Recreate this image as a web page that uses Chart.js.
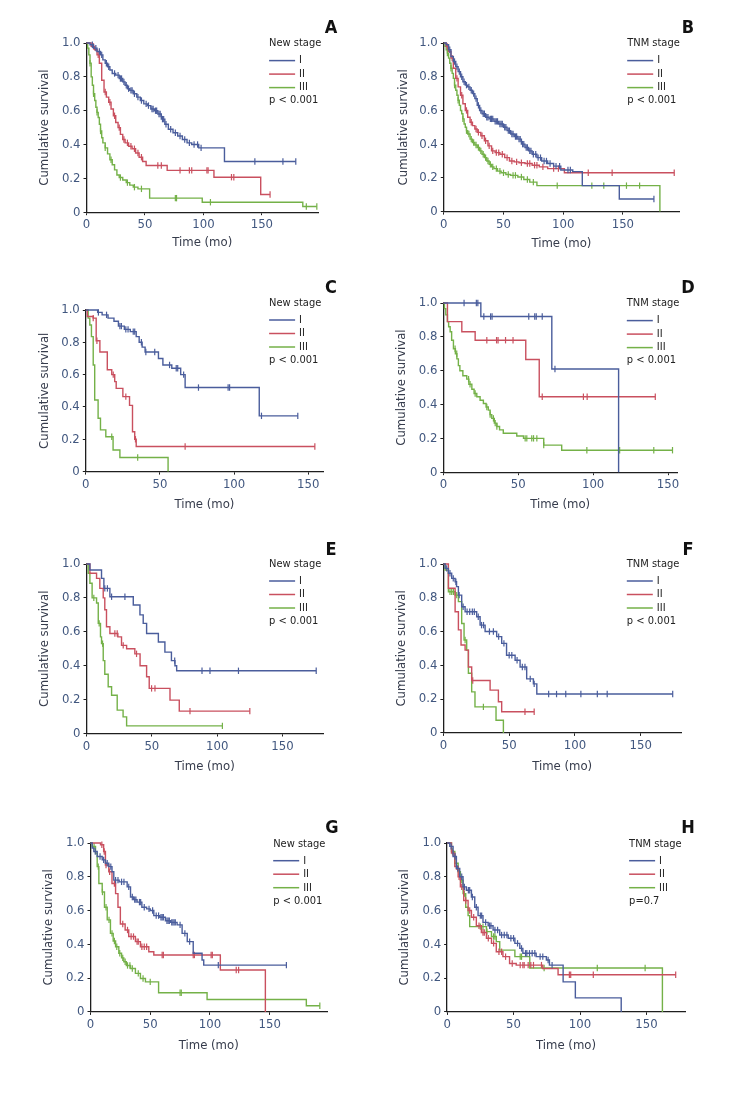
<!DOCTYPE html>
<html>
<head>
<meta charset="utf-8">
<script src="https://cdn.jsdelivr.net/npm/chart.js@4/dist/chart.umd.min.js"></script>
<style>
body { margin: 0; background: #fff; width: 731px; height: 1105px; position: relative; overflow: hidden; }
canvas { position: absolute; }
.tag { position: absolute; font: bold 18px "Liberation Sans Narrow", "DejaVu Sans Condensed", sans-serif; color: #111; transform: translate(-50%, -50%); }
</style>
</head>
<body>
<script>
// ---------- tick labels ----------
const timeTicks = [0, 50, 100, 150];
const survTicks = [0, 0.2, 0.4, 0.6, 0.8, 1.0];
const stageLabels = ['I', 'II', 'III'];

// ---------- A: new stage ----------
const aI_t = [3, 6, 9, 12, 14, 16, 18, 20, 22, 25, 28, 31, 33, 35, 37, 40, 43, 46, 49, 52, 55, 58, 61, 64, 67, 70, 74, 78, 82, 86, 90, 96, 118];
const aI_s = [0.99, 0.97, 0.95, 0.93, 0.90, 0.88, 0.86, 0.84, 0.82, 0.81, 0.79, 0.77, 0.75, 0.73, 0.72, 0.70, 0.68, 0.66, 0.64, 0.63, 0.61, 0.60, 0.58, 0.55, 0.52, 0.49, 0.47, 0.45, 0.43, 0.41, 0.40, 0.38, 0.30];
const aI_c = [5, 8, 11, 13, 17, 19, 24, 27, 29, 30, 32, 34, 36, 38, 39, 41, 44, 47, 51, 53, 56, 57, 59, 60, 62, 63, 65, 66, 68, 72, 76, 80, 84, 88, 92, 95, 98, 144, 168, 179];
const aII_t = [4, 7, 9, 11, 13, 15, 17, 19, 21, 23, 25, 27, 29, 31, 33, 36, 39, 42, 45, 48, 51, 69, 109, 149];
const aII_s = [0.98, 0.96, 0.93, 0.88, 0.78, 0.71, 0.68, 0.65, 0.61, 0.57, 0.53, 0.50, 0.46, 0.43, 0.41, 0.39, 0.375, 0.35, 0.325, 0.30, 0.276, 0.247, 0.207, 0.105];
const aII_c = [6, 10, 16, 20, 24, 28, 32, 35, 38, 41, 44, 47, 61, 64, 80, 88, 90, 103, 104, 124, 126, 157];
const aIII_t = [1, 2, 3, 4, 5, 6, 7, 8, 9, 10, 11, 12, 13, 14, 16, 18, 20, 22, 24, 26, 28, 31, 34, 37, 40, 44, 54, 99, 185];
const aIII_s = [0.97, 0.93, 0.88, 0.80, 0.75, 0.70, 0.66, 0.62, 0.59, 0.56, 0.52, 0.48, 0.44, 0.41, 0.38, 0.345, 0.31, 0.28, 0.25, 0.22, 0.205, 0.19, 0.175, 0.16, 0.148, 0.138, 0.083, 0.059, 0.034];
const aIII_c = [3, 6, 9, 12, 16, 21, 29, 35, 41, 47, 76, 77, 106, 188, 197];

// ---------- B: TNM stage ----------
const bI_t = [2, 4, 6, 8, 10, 12, 14, 16, 18, 20, 22, 24, 26, 28, 30, 32, 35, 38, 42, 46, 50, 53, 56, 59, 62, 65, 68, 71, 74, 78, 82, 87, 92, 98, 108, 116, 147];
const bI_s = [0.99, 0.96, 0.92, 0.89, 0.86, 0.83, 0.80, 0.77, 0.75, 0.74, 0.72, 0.70, 0.67, 0.63, 0.60, 0.58, 0.56, 0.55, 0.535, 0.52, 0.50, 0.48, 0.46, 0.445, 0.43, 0.40, 0.38, 0.36, 0.34, 0.32, 0.30, 0.285, 0.27, 0.247, 0.237, 0.154, 0.075];
const bI_c = [5, 9, 11, 13, 15, 17, 19, 21, 23, 25, 27, 29, 31, 33, 34, 36, 37, 39, 40, 41, 43, 44, 45, 47, 48, 49, 51, 52, 54, 55, 57, 58, 60, 61, 63, 64, 66, 67, 69, 70, 72, 73, 75, 77, 79, 81, 84, 86, 89, 94, 97, 104, 106, 176];
const bII_t = [2, 4, 6, 8, 10, 12, 14, 16, 18, 20, 22, 24, 26, 28, 31, 34, 37, 40, 43, 47, 51, 55, 59, 63, 68, 74, 80, 87, 101];
const bII_s = [0.98, 0.95, 0.91, 0.85, 0.79, 0.74, 0.69, 0.64, 0.60, 0.56, 0.53, 0.51, 0.49, 0.47, 0.45, 0.42, 0.39, 0.36, 0.35, 0.34, 0.32, 0.30, 0.295, 0.29, 0.285, 0.275, 0.265, 0.255, 0.23];
const bII_c = [3, 7, 11, 15, 19, 23, 27, 29, 32, 35, 38, 41, 44, 46, 49, 53, 57, 61, 65, 70, 72, 76, 78, 83, 92, 96, 121, 141, 193];
const bIII_t = [1, 2, 3, 4, 5, 6, 7, 8, 9, 10, 11, 12, 13, 14, 15, 16, 17, 18, 19, 20, 22, 24, 26, 28, 30, 32, 34, 36, 38, 40, 42, 45, 48, 52, 56, 62, 67, 72, 78, 181];
const bIII_s = [0.98, 0.96, 0.94, 0.91, 0.88, 0.85, 0.82, 0.79, 0.75, 0.72, 0.69, 0.66, 0.63, 0.60, 0.58, 0.55, 0.52, 0.50, 0.48, 0.46, 0.43, 0.41, 0.395, 0.38, 0.36, 0.34, 0.32, 0.30, 0.28, 0.265, 0.255, 0.24, 0.23, 0.22, 0.215, 0.205, 0.19, 0.175, 0.154, 0];
const bIII_c = [3, 6, 9, 12, 16, 19, 21, 23, 25, 27, 29, 31, 33, 35, 37, 39, 41, 44, 47, 50, 54, 58, 60, 65, 70, 75, 95, 124, 134, 153, 164];

// ---------- C: new stage ----------
const cI_t = [8, 11, 15, 19, 22, 26, 30, 34, 36, 38, 40, 49, 52, 58, 64, 67, 117];
const cI_s = [0.985, 0.97, 0.95, 0.93, 0.90, 0.88, 0.866, 0.835, 0.80, 0.77, 0.74, 0.70, 0.66, 0.64, 0.60, 0.52, 0.345];
const cI_c = [8.5, 14, 23, 24, 27, 28.5, 32, 33, 37.5, 40.5, 46.5, 56.5, 61, 62, 66, 76, 96, 97, 118.5, 143];
const cII_t = [1, 5, 7, 9.5, 14.5, 17.5, 19.5, 20.5, 25, 29.5, 31.5, 33, 34];
const cII_s = [0.96, 0.95, 0.81, 0.74, 0.63, 0.60, 0.557, 0.515, 0.464, 0.41, 0.247, 0.20, 0.155];
const cII_c = [5, 7.5, 18.5, 27, 33.5, 67, 154.5];
const cIII_t = [1.6, 2.7, 3.8, 5, 6, 8.3, 9.9, 13.5, 18.4, 23, 55.5];
const cIII_s = [0.95, 0.907, 0.835, 0.66, 0.443, 0.33, 0.258, 0.216, 0.134, 0.087, 0];
const cIII_c = [17.5, 35];

// ---------- D: TNM stage ----------
const dI_t = [25, 72.4, 117];
const dI_s = [0.92, 0.61, 0];
const dI_c = [13.8, 22, 23, 27, 31.5, 32.5, 57, 61, 62, 66, 74.5];
const dII_t = [2.7, 12.3, 21.2, 55, 64];
const dII_s = [0.89, 0.83, 0.78, 0.666, 0.446];
const dII_c = [29, 35.5, 36.5, 41.5, 46.5, 66, 93.5, 96, 141.5];
const dIII_t = [0.7, 1.6, 2.7, 3.5, 4.5, 5.5, 6.7, 8, 9, 10, 11, 13, 15.6, 17, 19, 20.5, 22.3, 24.5, 26.7, 28.5, 30, 31.2, 32.3, 34, 35.7, 37.5, 40, 49, 53.5, 67, 79];
const dIII_s = [0.967, 0.93, 0.89, 0.86, 0.83, 0.78, 0.73, 0.70, 0.67, 0.63, 0.60, 0.57, 0.55, 0.52, 0.49, 0.465, 0.446, 0.425, 0.406, 0.385, 0.367, 0.34, 0.318, 0.29, 0.27, 0.25, 0.23, 0.214, 0.20, 0.16, 0.13];
const dIII_c = [7.8, 8.9, 16.8, 17.8, 21.2, 29, 31.2, 33.4, 34.6, 35.7, 54.6, 55.7, 59, 60.2, 62.4, 67, 95.8, 117.7, 140.5, 153];

// ---------- E: new stage ----------
const eI_t = [2.6, 11.5, 13.3, 17.9, 35.8, 40.9, 43.4, 46, 55, 60, 65, 67.7, 69];
const eI_s = [0.965, 0.915, 0.856, 0.807, 0.758, 0.70, 0.65, 0.59, 0.54, 0.48, 0.43, 0.40, 0.37];
const eI_c = [14, 16, 19.2, 29.4, 67.5, 88.4, 94.5, 116.3, 175.8];
const eII_t = [2.6, 7.7, 10.2, 12.8, 14, 15.3, 17.9, 24, 26.8, 30.7, 37, 41, 46, 48, 63.9, 71];
const eII_s = [0.945, 0.915, 0.856, 0.80, 0.73, 0.63, 0.59, 0.57, 0.52, 0.50, 0.47, 0.40, 0.335, 0.266, 0.197, 0.132];
const eII_c = [21.7, 23.5, 28.1, 38.3, 49.8, 52.4, 79.2, 125];
const eIII_t = [1.3, 2.6, 4.3, 7.7, 9, 10.7, 11.5, 12.8, 14, 16.6, 19.2, 23.5, 28, 30.7];
const eIII_s = [0.945, 0.886, 0.80, 0.77, 0.65, 0.57, 0.53, 0.43, 0.35, 0.276, 0.226, 0.138, 0.098, 0.045];
const eIII_c = [5.6, 9.7, 12.3, 104];

// ---------- F: TNM stage ----------
const fI_t = [1.3, 3.8, 6.3, 8.9, 10, 11.4, 13.9, 16.5, 25.3, 27.9, 31.7, 40.5, 44.3, 48, 54.5, 58.3, 63.3, 68.4, 71];
const fI_s = [0.974, 0.945, 0.915, 0.895, 0.866, 0.816, 0.747, 0.717, 0.688, 0.638, 0.60, 0.57, 0.53, 0.46, 0.43, 0.39, 0.32, 0.29, 0.23];
const fI_c = [2.5, 5, 7.5, 9.5, 12, 15, 18, 20, 22, 23.5, 26.5, 29, 30.5, 35, 38, 42, 46, 50, 52, 56, 60, 62, 66, 69, 80, 86, 93, 104.5, 117, 124.5, 174.3];
const fII_t = [3.8, 8.9, 11.4, 13.4, 16.5, 19, 21.5, 35.5, 41.8, 44.3];
const fII_s = [0.856, 0.717, 0.61, 0.52, 0.49, 0.39, 0.31, 0.253, 0.184, 0.125];
const fII_c = [22.3, 62, 69];
const fIII_t = [1.3, 3.8, 8.9, 11.4, 13.9, 15.7, 17.7, 19, 21.5, 24, 40, 45.6];
const fIII_s = [0.964, 0.836, 0.816, 0.777, 0.648, 0.55, 0.49, 0.353, 0.243, 0.154, 0.075, 0];
const fIII_c = [5, 6.3, 7.6, 10.1, 16.5, 30.4];

// ---------- G: new stage ----------
const gI_t = [1.4, 2.8, 5.6, 9.8, 12.5, 15.3, 18, 19.5, 24, 30.7, 33.5, 36, 39, 43, 47, 50, 53, 58, 62.7, 67, 72.5, 76.7, 81, 86, 93.4, 94.8];
const gI_s = [0.97, 0.95, 0.92, 0.90, 0.88, 0.86, 0.83, 0.78, 0.77, 0.74, 0.68, 0.665, 0.65, 0.62, 0.61, 0.60, 0.57, 0.56, 0.54, 0.53, 0.515, 0.465, 0.416, 0.347, 0.307, 0.277];
const gI_c = [4, 8, 11, 14, 17, 21, 23, 26, 28, 32, 35, 37, 38, 41, 42, 45, 49, 52, 55, 57, 59, 60, 61, 64, 65, 66, 68, 69, 70, 71, 75, 79, 83, 107, 164];
const gII_t = [8.4, 11, 12.5, 15.3, 18, 21, 23, 25, 29, 32, 37.6, 41.8, 48.8, 53, 108.7, 146.4];
const gII_s = [0.99, 0.95, 0.87, 0.83, 0.76, 0.70, 0.62, 0.52, 0.485, 0.446, 0.416, 0.386, 0.356, 0.337, 0.248, 0];
const gII_c = [9.5, 11.5, 13, 16, 20, 27, 31, 34, 36, 39, 40, 43, 45, 47, 60, 61, 86, 87, 101, 102, 122, 124];
const gIII_t = [1.4, 4.2, 5.6, 7, 9.8, 11.7, 14, 16.7, 19, 21, 23.7, 26, 27.9, 30, 33.5, 37.6, 41.8, 46, 57, 97.6, 180.7];
const gIII_s = [0.98, 0.94, 0.86, 0.76, 0.71, 0.62, 0.545, 0.465, 0.42, 0.386, 0.347, 0.32, 0.297, 0.275, 0.257, 0.228, 0.198, 0.178, 0.113, 0.073, 0.036];
const gIII_c = [3, 6.5, 10, 13, 15.5, 18, 20, 22, 24.5, 27, 29, 31, 33, 35, 40, 44, 50, 75, 76, 192];

// ---------- H: TNM stage ----------
const hI_t = [2, 4.5, 7, 9.5, 12, 14.5, 18.3, 20.8, 23.3, 27, 30.9, 34.6, 39.6, 46, 51, 54.7, 57, 67, 74.7, 77, 87.3, 96.5, 131];
const hI_s = [0.98, 0.92, 0.85, 0.80, 0.74, 0.72, 0.68, 0.62, 0.57, 0.53, 0.51, 0.485, 0.455, 0.436, 0.406, 0.376, 0.347, 0.327, 0.307, 0.277, 0.178, 0.083, 0];
const hI_c = [3, 6, 8, 11, 13, 16, 17, 19, 22, 25, 26, 29, 32, 33, 36, 38, 41, 43, 45, 48, 50, 53, 56, 59, 60, 62, 64, 66, 70, 72, 76, 79];
const hII_t = [3.3, 5.8, 8.3, 10, 12.5, 15.8, 18.3, 22, 25.8, 29.6, 33.4, 37, 42, 47, 52, 72, 83.5];
const hII_s = [0.94, 0.86, 0.80, 0.74, 0.66, 0.60, 0.56, 0.51, 0.47, 0.436, 0.406, 0.356, 0.327, 0.287, 0.277, 0.257, 0.22];
const hII_c = [4.5, 7, 9, 11, 14, 17, 20, 24, 27, 28, 31, 35, 39, 41, 44, 49, 55, 57, 58, 61, 63, 65, 71, 92, 93, 110, 172];
const hIII_t = [3.3, 5.8, 8.3, 10, 12, 14, 15.8, 17, 29.6, 33.4, 37, 39.6, 51, 62.2, 162];
const hIII_s = [0.95, 0.88, 0.83, 0.78, 0.70, 0.62, 0.57, 0.505, 0.475, 0.446, 0.416, 0.366, 0.327, 0.26, 0];
const hIII_c = [4, 7, 9, 11, 13, 25, 27, 30, 35, 36, 55, 56, 73, 113, 149];

const stageColors = ['#4a5d9c', '#c9505f', '#74b148'];
const FONT = '"Liberation Sans Narrow", "DejaVu Sans Condensed", sans-serif';

// layout of each panel on the page (plot box, titles, legend, letter)
const panels = [
  { tag: 'A', L: 86.7, T: 42.7, B: 211.7, ppm: 175 / 150, xmax: 198, yTitleX: 45, xTitleY: 241.7, legX: 269.3, legY: 43.3, legTitle: 'New stage', p: 'p < 0.001', tagX: 331, tagY: 26,
    curves: [[aI_t, aI_s, aI_c], [aII_t, aII_s, aII_c], [aIII_t, aIII_s, aIII_c]] },
  { tag: 'B', L: 443.3, T: 42.7, B: 211.7, ppm: 179 / 150, xmax: 197, yTitleX: 403.3, xTitleY: 243.3, legX: 626.7, legY: 43.3, legTitle: 'TNM stage', p: 'p < 0.001', tagX: 688, tagY: 26,
    curves: [[bI_t, bI_s, bI_c], [bII_t, bII_s, bII_c], [bIII_t, bIII_s, bIII_c]] },
  { tag: 'C', L: 86, T: 310.3, B: 471.7, ppm: 222.3 / 150, xmax: 160, yTitleX: 45, xTitleY: 504.3, legX: 269.3, legY: 303.3, legTitle: 'New stage', p: 'p < 0.001', tagX: 331, tagY: 286,
    curves: [[cI_t, cI_s, cI_c], [cII_t, cII_s, cII_c], [cIII_t, cIII_s, cIII_c]] },
  { tag: 'D', L: 443.3, T: 302.7, B: 472.3, ppm: 224.4 / 150, xmax: 156, yTitleX: 401.7, xTitleY: 504.3, legX: 626.7, legY: 303.3, legTitle: 'TNM stage', p: 'p < 0.001', tagX: 688, tagY: 286,
    curves: [[dI_t, dI_s, dI_c], [dII_t, dII_s, dII_c], [dIII_t, dIII_s, dIII_c]] },
  { tag: 'E', L: 86.7, T: 564, B: 733.3, ppm: 195.6 / 150, xmax: 181, yTitleX: 45, xTitleY: 766, legX: 269.3, legY: 564, legTitle: 'New stage', p: 'p < 0.001', tagX: 331, tagY: 548,
    curves: [[eI_t, eI_s, eI_c], [eII_t, eII_s, eII_c], [eIII_t, eIII_s, eIII_c]] },
  { tag: 'F', L: 443.3, T: 564, B: 732.7, ppm: 197.3 / 150, xmax: 180.6, yTitleX: 401.7, xTitleY: 766, legX: 626.7, legY: 564, legTitle: 'TNM stage', p: 'p < 0.001', tagX: 688, tagY: 548,
    curves: [[fI_t, fI_s, fI_c], [fII_t, fII_s, fII_c], [fIII_t, fIII_s, fIII_c]] },
  { tag: 'G', L: 90, T: 843.3, B: 1011.7, ppm: 179.3 / 150, xmax: 198, yTitleX: 48.3, xTitleY: 1045, legX: 272.7, legY: 844, legTitle: 'New stage', p: 'p < 0.001', tagX: 332, tagY: 826,
    curves: [[gI_t, gI_s, gI_c], [gII_t, gII_s, gII_c], [gIII_t, gIII_s, gIII_c]] },
  { tag: 'H', L: 447.3, T: 843.3, B: 1011.7, ppm: 199.3 / 150, xmax: 179, yTitleX: 405, xTitleY: 1045, legX: 629.3, legY: 844, legTitle: 'TNM stage', p: 'p=0.7', tagX: 688, tagY: 826,
    curves: [[hI_t, hI_s, hI_c], [hII_t, hII_s, hII_c], [hIII_t, hIII_s, hIII_c]] }
];

// Kaplan-Meier step points from drop times and survival values
function stepPoints(t, s, c) {
  const pts = [{ x: 0, y: 1 }];
  t.forEach((x, i) => pts.push({ x: x, y: s[i] }));
  const last = pts[pts.length - 1];
  const end = Math.max(last.x, ...c);
  if (end > last.x && last.y > 0) pts.push({ x: end, y: last.y });
  return pts;
}
function survAt(t, s, x) {
  let v = 1;
  t.forEach((ti, i) => { if (ti <= x) v = s[i]; });
  return v;
}

// draws "New stage / I / II / III / p" box
const kmLegend = {
  id: 'kmLegend',
  afterDraw(chart, args, opts) {
    const ctx = chart.ctx;
    ctx.save();
    ctx.font = '11px ' + FONT;
    ctx.fillStyle = '#222';
    ctx.textBaseline = 'middle';
    ctx.fillText(opts.title, opts.x, opts.y);
    [17, 30.5, 44].forEach((dy, i) => {
      ctx.strokeStyle = stageColors[i];
      ctx.lineWidth = 1.5;
      ctx.beginPath();
      ctx.moveTo(opts.x, opts.y + dy);
      ctx.lineTo(opts.x + 26, opts.y + dy);
      ctx.stroke();
      ctx.fillText(stageLabels[i], opts.x + 30, opts.y + dy);
    });
    ctx.fillText(opts.p, opts.x, opts.y + 57);
    ctx.restore();
  }
};

const TITLE_HALF = 7.8;
panels.forEach(pn => {
  const R = pn.L + pn.xmax * pn.ppm;
  const cl = pn.yTitleX - TITLE_HALF;
  const ct = pn.T - 14;
  const cw = R + 8 - cl;
  const cb = pn.xTitleY + TITLE_HALF;
  const ch = cb - ct;

  const canvas = document.createElement('canvas');
  canvas.width = Math.round(cw);
  canvas.height = Math.round(ch);
  canvas.style.left = cl + 'px';
  canvas.style.top = ct + 'px';
  canvas.style.width = Math.round(cw) + 'px';
  canvas.style.height = Math.round(ch) + 'px';
  document.body.appendChild(canvas);

  const tag = document.createElement('div');
  tag.className = 'tag';
  tag.textContent = pn.tag;
  tag.style.left = pn.tagX + 'px';
  tag.style.top = pn.tagY + 'px';
  document.body.appendChild(tag);

  const datasets = [];
  pn.curves.forEach((cv, i) => {
    const [t, s, c] = cv;
    datasets.push({
      data: stepPoints(t, s, c),
      borderColor: stageColors[i],
      borderWidth: 1.4,
      pointRadius: 0,
      stepped: 'before',
      fill: false,
      clip: false
    });
    datasets.push({
      data: c.map(x => ({ x: x, y: survAt(t, s, x) })),
      showLine: false,
      borderColor: stageColors[i],
      pointStyle: 'line',
      pointRotation: 90,
      pointRadius: 3.2,
      pointBorderWidth: 1.2,
      clip: false
    });
  });

  const axisColor = '#1e1e1e';
  const tickColor = '#41577f';
  const titleColor = '#363c4c';

  new Chart(canvas, {
    type: 'line',
    data: { datasets: datasets },
    plugins: [kmLegend],
    options: {
      responsive: false,
      animation: false,
      events: [],
      devicePixelRatio: 1,
      layout: { padding: { left: 0, top: pn.T - ct, right: cw - (R - cl), bottom: 0 } },
      plugins: {
        legend: { display: false },
        tooltip: { enabled: false },
        kmLegend: { x: pn.legX - cl, y: pn.legY - ct, title: pn.legTitle, p: pn.p }
      },
      scales: {
        x: {
          type: 'linear',
          min: 0,
          max: pn.xmax,
          afterBuildTicks: sc => { sc.ticks = timeTicks.map(v => ({ value: v })); },
          afterFit: sc => { sc.height = cb - pn.B; },
          grid: { drawOnChartArea: false, drawTicks: true, tickLength: 3, color: axisColor, lineWidth: 1 },
          border: { display: true, color: axisColor, width: 1.3 },
          ticks: { color: tickColor, font: { family: FONT, size: 13 }, padding: 2, maxRotation: 0 },
          title: { display: true, text: 'Time (mo)', color: titleColor, font: { family: FONT, size: 13 }, padding: 0 }
        },
        y: {
          type: 'linear',
          min: 0,
          max: 1,
          afterBuildTicks: sc => { sc.ticks = survTicks.map(v => ({ value: v })); },
          afterFit: sc => { sc.width = pn.L - cl; },
          grid: { drawOnChartArea: false, drawTicks: true, tickLength: 3, color: axisColor, lineWidth: 1 },
          border: { display: true, color: axisColor, width: 1.3 },
          ticks: {
            color: tickColor,
            font: { family: FONT, size: 13 },
            padding: 3,
            callback: v => (v === 0 ? '0' : v.toFixed(1))
          },
          title: { display: true, text: 'Cumulative survival', color: titleColor, font: { family: FONT, size: 13 }, padding: 0 }
        }
      }
    }
  });
});
</script>
</body>
</html>
